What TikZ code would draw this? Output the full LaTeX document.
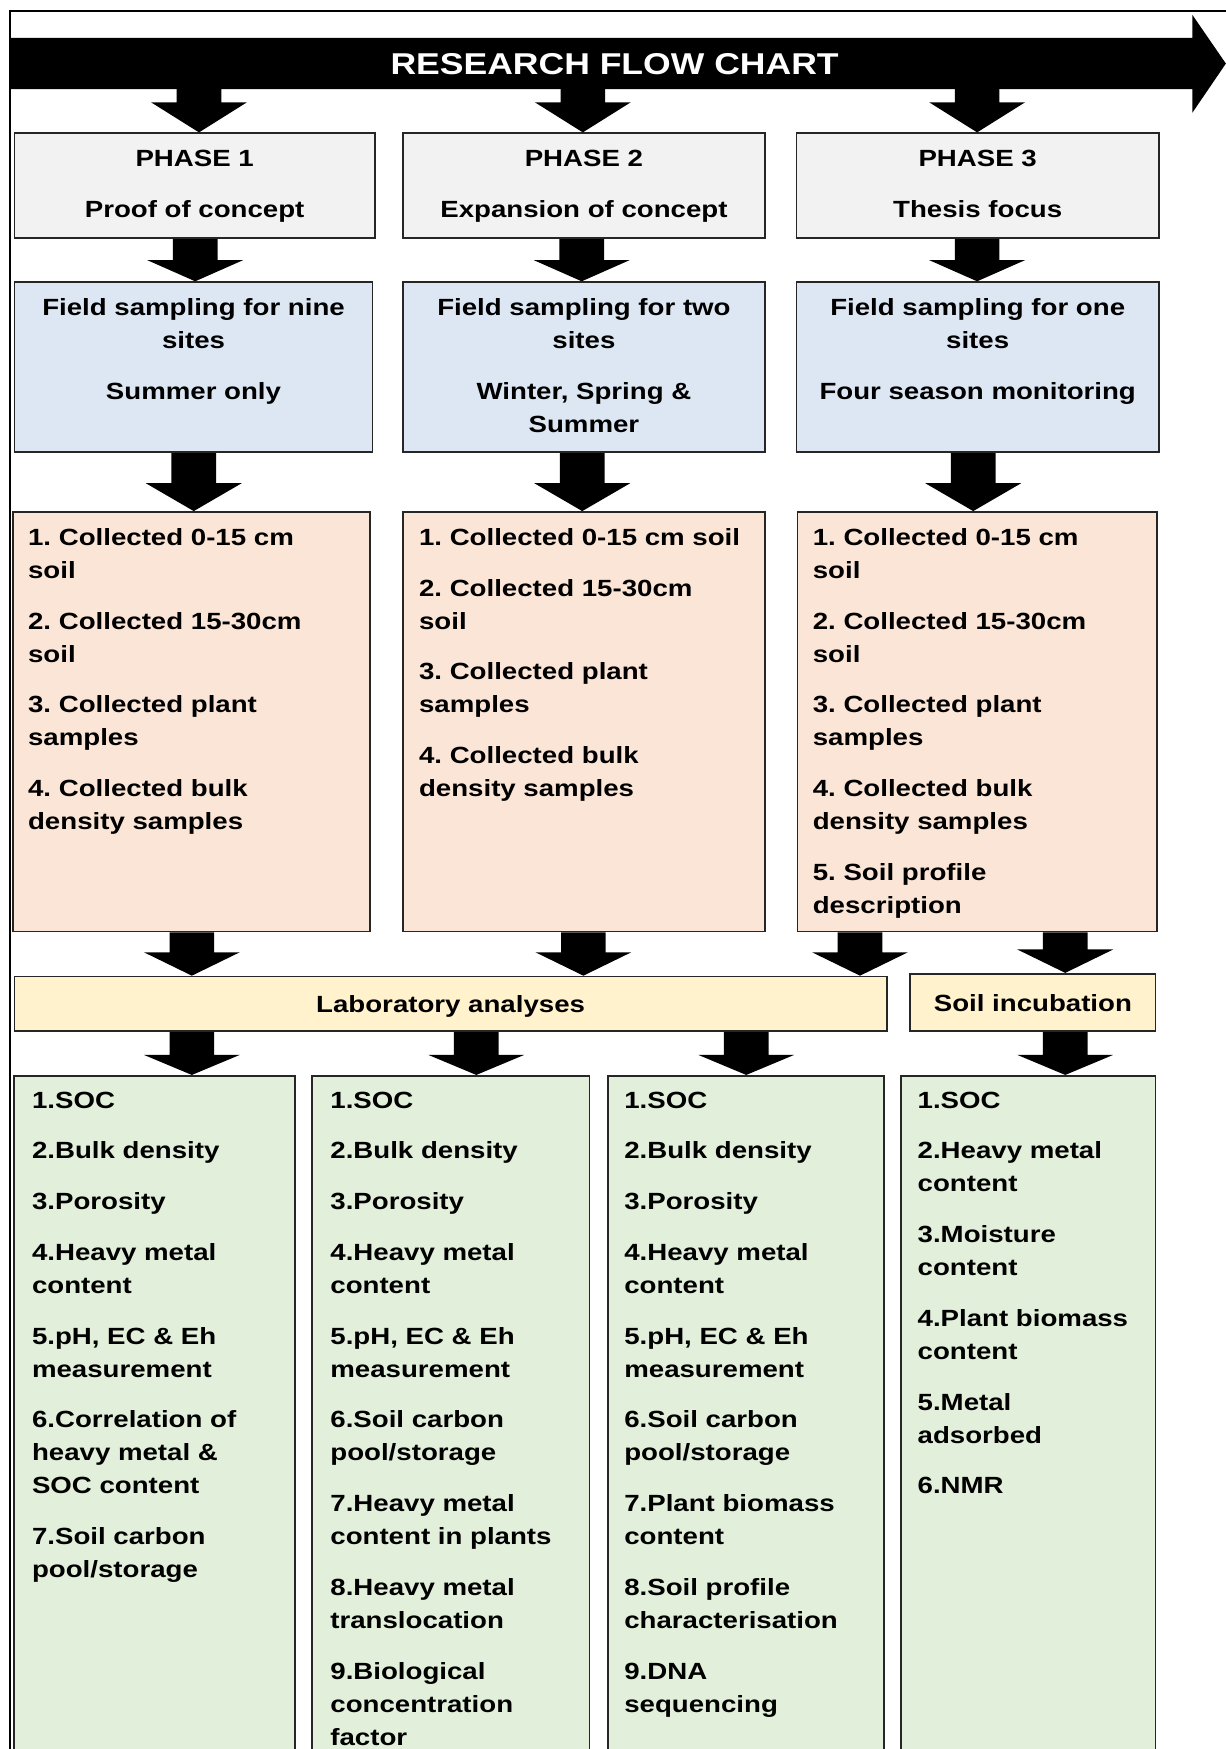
\documentclass[tikz,border=0pt]{standalone}
\usepackage{fontspec}
\setmainfont{Liberation Sans}[FakeStretch=1.18]
\usetikzlibrary{calc}
\frenchspacing
\definecolor{cgray}{HTML}{F2F2F2}
\definecolor{cblue}{HTML}{DDE7F3}
\definecolor{cpeach}{HTML}{FBE5D6}
\definecolor{cyellow}{HTML}{FFF2CC}
\definecolor{cgreen}{HTML}{E2EFDA}
\definecolor{cline}{HTML}{262626}
\newcommand\mygap{15.9pt}
% #1 x position, #2 start coordinate, #3 end coordinate, #4 head length
\newcommand\blockarrow[4]{%
  \fill[black] let \p1=#2, \p2=#3 in
    (#1pt-20pt,\y1) -- (#1pt+20pt,\y1) -- (#1pt+20pt,\y2+#4pt) -- (#1pt+43pt,\y2+#4pt)
    -- (#1pt,\y2) -- (#1pt-43pt,\y2+#4pt) -- (#1pt-20pt,\y2+#4pt) -- cycle;}
\begin{document}
\begin{tikzpicture}[x=1pt,y=-1pt,
  box/.style={draw=cline, line width=1.6pt, inner sep=0pt},
  txt/.style={inner sep=0pt, text=black, font=\fontsize{21}{29.6}\selectfont\bfseries\frenchspacing},
  ltxt/.style={txt, anchor=north west, align=left},
  ctxt/.style={txt, anchor=north, align=center}]
\useasboundingbox (0,0) rectangle (1099,1568);
\clip (0,0) rectangle (1099,1568);
\fill[white] (0,0) rectangle (1099,1568);
% frame
\draw[line width=1.5pt, black] (9,1620) -- (9,10) -- (1120,10);
% big arrow
\fill[black] (9,34) -- (1069,34) -- (1069,13.4) -- (1099,57) -- (1069,101) -- (1069,80) -- (9,80) -- cycle;
\node[inner sep=0pt, text=white, font=\fontsize{27}{32}\selectfont\bfseries, anchor=base] (title) at (551,66.7) {RESEARCH FLOW CHART};
\coordinate (barbot) at (0,72);
% phase boxes
\node[box, fill=cgray, minimum width=323pt, minimum height=94pt] (p1) at (174.5,166.5) {};
\node[box, fill=cgray, minimum width=325pt, minimum height=94pt] (p2) at (523.5,166.5) {};
\node[box, fill=cgray, minimum width=325pt, minimum height=94pt] (p3) at (876.5,166.5) {};
\node[ctxt] (p1t) at (174.5,134.7) {PHASE 1\\[\mygap]Proof of concept};
\node[ctxt] (p2t) at (523.5,134.7) {PHASE 2\\[\mygap]Expansion of concept};
\node[ctxt] (p3t) at (876.5,134.7) {PHASE 3\\[\mygap]Thesis focus};
% field boxes
\node[box, fill=cblue, minimum width=321pt, minimum height=152.5pt] (f1) at (173.5,329.25) {};
\node[box, fill=cblue, minimum width=325pt, minimum height=152.5pt] (f2) at (523.5,329.25) {};
\node[box, fill=cblue, minimum width=325pt, minimum height=152.5pt] (f3) at (876.5,329.25) {};
\node[ctxt] (f1t) at (173.5,267.5) {Field sampling for nine\\sites\\[\mygap]Summer only};
\node[ctxt] (f2t) at (523.5,267.5) {Field sampling for two\\sites\\[\mygap]Winter, Spring \&\\Summer};
\node[ctxt] (f3t) at (876.5,267.5) {Field sampling for one\\sites\\[\mygap]Four season monitoring};
% collection boxes
\node[box, fill=cpeach, minimum width=320pt, minimum height=376pt] (c1) at (172,647) {};
\node[box, fill=cpeach, minimum width=325pt, minimum height=376pt] (c2) at (523.5,647) {};
\node[box, fill=cpeach, minimum width=322pt, minimum height=376pt] (c3) at (876,647) {};
\node[ltxt] (c1t) at (25,473.5) {1. Collected 0-15 cm\\soil\\[\mygap]2. Collected 15-30cm\\soil\\[\mygap]3. Collected plant\\samples\\[\mygap]4. Collected bulk\\density samples};
\node[ltxt] (c2t) at (375.5,473.5) {1. Collected 0-15 cm soil\\[\mygap]2. Collected 15-30cm\\soil\\[\mygap]3. Collected plant\\samples\\[\mygap]4. Collected bulk\\density samples};
\node[ltxt] (c3t) at (728.5,473.5) {1. Collected 0-15 cm\\soil\\[\mygap]2. Collected 15-30cm\\soil\\[\mygap]3. Collected plant\\samples\\[\mygap]4. Collected bulk\\density samples\\[\mygap]5. Soil profile\\description};
% lab and incubation
\node[box, fill=cyellow, minimum width=782pt, minimum height=49pt] (lab) at (404,900) {};
\node[box, fill=cyellow, minimum width=220.5pt, minimum height=51.5pt] (inc) at (925.75,898.75) {};
\node[txt, anchor=base] (labt) at (404,907.5) {Laboratory analyses};
\node[txt, anchor=base] (inct) at (926,906.5) {Soil incubation};
% result boxes
\node[box, fill=cgreen, minimum width=252pt, minimum height=655.5pt] (g1) at (138.5,1292.25) {};
\node[box, fill=cgreen, minimum width=248.5pt, minimum height=655.5pt] (g2) at (404.25,1292.25) {};
\node[box, fill=cgreen, minimum width=247.5pt, minimum height=655.5pt] (g3) at (668.75,1292.25) {};
\node[box, fill=cgreen, minimum width=228pt, minimum height=655.5pt] (g4) at (922,1292.25) {};
\node[ltxt] (g1t) at (28.5,978.6) {1.SOC\\[\mygap]2.Bulk density\\[\mygap]3.Porosity\\[\mygap]4.Heavy metal\\content\\[\mygap]5.pH, EC \& Eh\\measurement\\[\mygap]6.Correlation of\\heavy metal \&\\SOC content\\[\mygap]7.Soil carbon\\pool/storage};
\node[ltxt] (g2t) at (296,978.6) {1.SOC\\[\mygap]2.Bulk density\\[\mygap]3.Porosity\\[\mygap]4.Heavy metal\\content\\[\mygap]5.pH, EC \& Eh\\measurement\\[\mygap]6.Soil carbon\\pool/storage\\[\mygap]7.Heavy metal\\content in plants\\[\mygap]8.Heavy metal\\translocation\\[\mygap]9.Biological\\concentration\\factor};
\node[ltxt] (g3t) at (559.5,978.6) {1.SOC\\[\mygap]2.Bulk density\\[\mygap]3.Porosity\\[\mygap]4.Heavy metal\\content\\[\mygap]5.pH, EC \& Eh\\measurement\\[\mygap]6.Soil carbon\\pool/storage\\[\mygap]7.Plant biomass\\content\\[\mygap]8.Soil profile\\characterisation\\[\mygap]9.DNA\\sequencing};
\node[ltxt] (g4t) at (822.5,978.6) {1.SOC\\[\mygap]2.Heavy metal\\content\\[\mygap]3.Moisture\\content\\[\mygap]4.Plant biomass\\content\\[\mygap]5.Metal\\adsorbed\\[\mygap]6.NMR};
% arrows: title bar -> phases
\blockarrow{178.4}{(barbot)}{(p1.north)}{27}
\blockarrow{522.5}{(barbot)}{(p2.north)}{27}
\blockarrow{876}{(barbot)}{(p3.north)}{27}
% phases -> field
\blockarrow{175}{(p1.south)}{(f1.north)}{19}
\blockarrow{521.5}{(p2.south)}{(f2.north)}{19}
\blockarrow{876}{(p3.south)}{(f3.north)}{19}
% field -> collection
\blockarrow{173.7}{(f1.south)}{(c1.north)}{25}
\blockarrow{522}{(f2.south)}{(c2.north)}{25}
\blockarrow{872.5}{(f3.south)}{(c3.north)}{25}
% collection -> lab / incubation
\blockarrow{172}{(c1.south)}{(lab.north)}{21}
\blockarrow{523}{(c2.south)}{(lab.north)}{21}
\blockarrow{771}{(c3.south)}{(lab.north)}{21}
\blockarrow{955}{(c3.south)}{(inc.north)}{21}
% lab / incubation -> results
\blockarrow{172}{(lab.south)}{(g1.north)}{18}
\blockarrow{427}{(lab.south)}{(g2.north)}{18}
\blockarrow{669}{(lab.south)}{(g3.north)}{18}
\blockarrow{955}{(inc.south)}{(g4.north)}{18}
\end{tikzpicture}
\end{document}
